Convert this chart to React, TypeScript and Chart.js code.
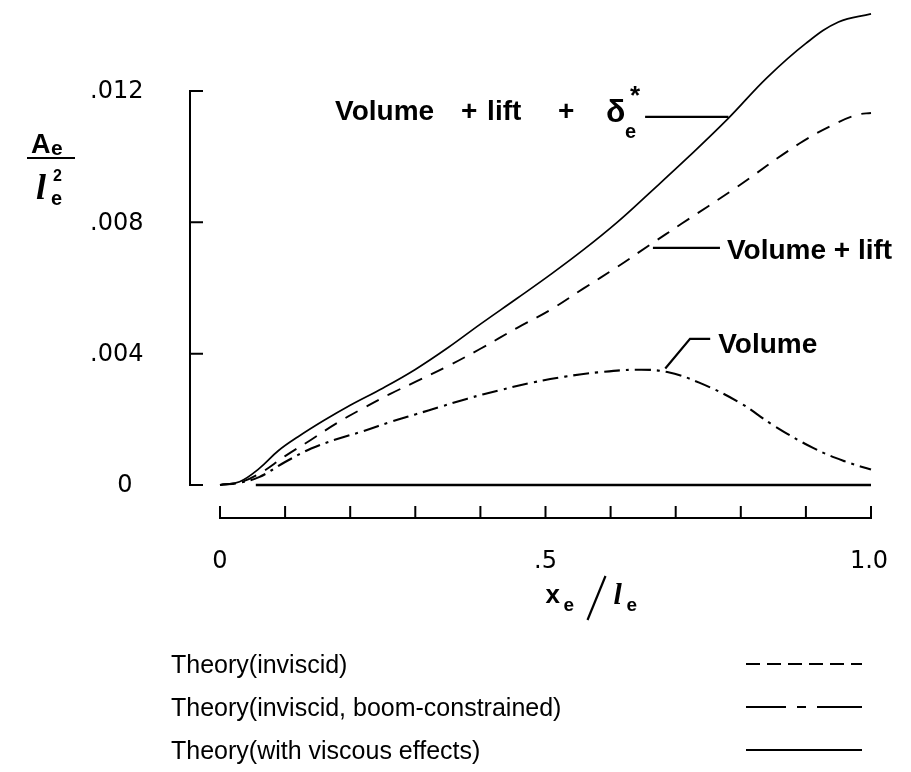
import { useEffect, useRef } from "react";
import { Chart, registerables } from "chart.js";

Chart.register(...registerables);

// Equivalent-area distributions A_e / l_e^2 along x_e / l_e
const volLiftDeltaX = [0, 0.03, 0.06, 0.09, 0.12, 0.16, 0.2, 0.25, 0.3, 0.35, 0.4, 0.456, 0.507, 0.558, 0.61, 0.66, 0.72, 0.78, 0.84, 0.9, 0.95, 1.0];
const volLiftDeltaY = [0, 0.0001, 0.0005, 0.00105, 0.00147, 0.00197, 0.00243, 0.00295, 0.00352, 0.00418, 0.0049, 0.00568, 0.0064, 0.00716, 0.008, 0.0089, 0.01, 0.01115, 0.0124, 0.01345, 0.0141, 0.01435];

const volLiftX = [0, 0.03, 0.06, 0.1, 0.14, 0.18, 0.22, 0.26, 0.3, 0.35, 0.4, 0.456, 0.507, 0.558, 0.61, 0.66, 0.71, 0.79, 0.89, 0.95, 0.98, 1.0];
const volLiftY = [0, 0.00008, 0.00034, 0.00088, 0.00138, 0.00189, 0.00234, 0.00276, 0.00314, 0.00362, 0.00415, 0.00478, 0.00533, 0.00598, 0.00664, 0.00731, 0.00797, 0.00902, 0.0104, 0.01105, 0.01128, 0.01133];

const volumeX = [0, 0.03, 0.06, 0.1, 0.14, 0.18, 0.22, 0.26, 0.3, 0.34, 0.38, 0.43, 0.48, 0.53, 0.58, 0.64, 0.687, 0.737, 0.799, 0.849, 0.911, 0.96, 1.0];
const volumeY = [0, 0.00007, 0.00024, 0.0007, 0.00111, 0.0014, 0.00164, 0.00191, 0.00215, 0.00239, 0.00263, 0.00289, 0.00312, 0.0033, 0.00343, 0.00351, 0.00344, 0.00311, 0.0025, 0.00183, 0.00113, 0.00072, 0.00047];

// zero reference line
const baseX = [0.055, 1.0];
const baseY = [0, 0];

const xTicks = [0, 0.1, 0.2, 0.3, 0.4, 0.5, 0.6, 0.7, 0.8, 0.9, 1.0];
const xTickLabels = ["0", ".5", "1.0"];
const xLabelValues = [0, 0.5, 1.0];
const yTicks = [0, 0.004, 0.008, 0.012];
const yTickLabels = ["0", ".004", ".008", ".012"];

const legendLabels = [
  "Theory(inviscid)",
  "Theory(inviscid, boom-constrained)",
  "Theory(with viscous effects)",
];

const W = 911;
const H = 772;
const INK = "#000";
const PAD_TOP = 6;
const PLOT_BOTTOM = 485;
const PX_PER_UNIT_Y = 394 / 0.012;
const Y_MAX = (PLOT_BOTTOM - PAD_TOP) / PX_PER_UNIT_Y;

const toPts = (xs: number[], ys: number[]) => xs.map((x, i) => ({ x, y: ys[i] }));

const TICK_FONT = '24px "DejaVu Sans"';
const NOTE_FONT = 'bold 28px "Liberation Sans"';
const LEGEND_FONT = '25px "Liberation Sans"';

const decor = {
  id: "decor",
  afterDatasetsDraw(chart: any) {
    const { ctx } = chart;
    const xs = chart.scales.x;
    const ys = chart.scales.y;
    const px = (v: number) => xs.getPixelForValue(v);
    const py = (v: number) => ys.getPixelForValue(v);

    ctx.save();
    ctx.strokeStyle = INK;
    ctx.fillStyle = INK;
    ctx.lineCap = "butt";

    // vertical axis with ticks pointing inward
    const yAxisX = px(0) - 30;
    ctx.lineWidth = 2;
    ctx.beginPath();
    ctx.moveTo(yAxisX, py(yTicks[yTicks.length - 1]));
    ctx.lineTo(yAxisX, py(0));
    yTicks.forEach((t) => {
      ctx.moveTo(yAxisX - 1, py(t));
      ctx.lineTo(yAxisX + 13, py(t));
    });
    ctx.stroke();

    ctx.font = TICK_FONT;
    ctx.textBaseline = "middle";
    yTicks.forEach((t, i) => {
      const lab = yTickLabels[i];
      if (lab === "0") {
        ctx.textAlign = "center";
        ctx.fillText(lab, yAxisX - 65, py(t) + 1);
      } else {
        ctx.textAlign = "left";
        ctx.fillText(lab, yAxisX - 100, py(t) + 1);
      }
    });

    // horizontal axis, drawn below the plot
    const xAxisY = py(0) + 33;
    ctx.beginPath();
    ctx.moveTo(px(0), xAxisY);
    ctx.lineTo(px(1), xAxisY);
    xTicks.forEach((t) => {
      ctx.moveTo(px(t), xAxisY + 1);
      ctx.lineTo(px(t), xAxisY - 12);
    });
    ctx.stroke();

    ctx.textAlign = "center";
    xLabelValues.forEach((v, i) => {
      ctx.fillText(xTickLabels[i], px(v) + (v === 1 ? -2 : 0), xAxisY + 44);
    });

    // x_e / l_e
    ctx.textAlign = "left";
    ctx.textBaseline = "alphabetic";
    const tx = px(0.5);
    ctx.font = 'bold 26px "Liberation Sans"';
    ctx.fillText("x", tx, 603);
    ctx.font = 'bold 19px "Liberation Sans"';
    ctx.fillText("e", tx + 18, 611);
    ctx.lineWidth = 2.2;
    ctx.beginPath();
    ctx.moveTo(tx + 42, 620);
    ctx.lineTo(tx + 60, 576);
    ctx.stroke();
    ctx.font = 'italic bold 30px "Liberation Serif"';
    ctx.fillText("l", tx + 68, 604);
    ctx.font = 'bold 19px "Liberation Sans"';
    ctx.fillText("e", tx + 81, 611);

    // A_e / l_e^2
    ctx.font = 'bold 27px "Liberation Sans"';
    ctx.fillText("A", 31, 153);
    ctx.font = 'bold 21px "Liberation Sans"';
    ctx.fillText("e", 51, 155);
    ctx.lineWidth = 2;
    ctx.beginPath();
    ctx.moveTo(27, 158);
    ctx.lineTo(75, 158);
    ctx.stroke();
    ctx.font = 'italic bold 36px "Liberation Serif"';
    ctx.fillText("l", 36, 199);
    ctx.font = 'bold 16px "Liberation Sans"';
    ctx.fillText("2", 53, 181);
    ctx.font = 'bold 20px "Liberation Sans"';
    ctx.fillText("e", 51, 205);

    // curve call-outs
    ctx.lineWidth = 2.2;
    // Volume + lift + delta*
    const dY = py(0.01121);
    const dL = px(0.653);
    ctx.beginPath();
    ctx.moveTo(dL, dY);
    ctx.lineTo(px(0.781), dY);
    ctx.stroke();
    ctx.font = NOTE_FONT;
    ctx.fillText("Volume", dL - 310, dY + 3);
    ctx.textAlign = "center";
    ctx.fillText("+", dL - 176, dY + 3);
    ctx.fillText("+", dL - 79, dY + 3);
    ctx.textAlign = "left";
    ctx.fillText("lift", dL - 158, dY + 3);
    ctx.font = 'bold 32px "Liberation Sans"';
    ctx.fillText("δ", dL - 39, dY + 5);
    ctx.font = 'bold 20px "Liberation Sans"';
    ctx.fillText("e", dL - 20, dY + 21);
    ctx.font = 'bold 26px "Liberation Sans"';
    ctx.fillText("*", dL - 15, dY - 13);

    // Volume + lift
    const lY = py(0.00722);
    ctx.beginPath();
    ctx.moveTo(px(0.665), lY);
    ctx.lineTo(px(0.768), lY);
    ctx.stroke();
    ctx.font = NOTE_FONT;
    ctx.fillText("Volume + lift", px(0.768) + 7, lY + 11);

    // Volume
    ctx.beginPath();
    ctx.moveTo(px(0.684), py(0.00355));
    ctx.lineTo(px(0.722), py(0.00445));
    ctx.lineTo(px(0.753), py(0.00445));
    ctx.stroke();
    ctx.fillText("Volume", px(0.753) + 8, py(0.00445) + 14);

    // key
    const rowY = [664, 707, 750];
    const kx0 = 746;
    const kx1 = 862;
    ctx.font = LEGEND_FONT;
    legendLabels.forEach((lab, i) => {
      ctx.fillText(lab, 171, rowY[i] + 9);
    });
    ctx.lineWidth = 1.8;
    ctx.setLineDash([14, 7]);
    ctx.beginPath();
    ctx.moveTo(kx0, rowY[0]);
    ctx.lineTo(kx1, rowY[0]);
    ctx.stroke();
    ctx.setLineDash([40, 11, 9, 11, 60]);
    ctx.beginPath();
    ctx.moveTo(kx0, rowY[1]);
    ctx.lineTo(kx1, rowY[1]);
    ctx.stroke();
    ctx.setLineDash([]);
    ctx.beginPath();
    ctx.moveTo(kx0, rowY[2]);
    ctx.lineTo(kx1, rowY[2]);
    ctx.stroke();

    ctx.restore();
  },
};

export default function App() {
  const canvasRef = useRef<HTMLCanvasElement | null>(null);

  useEffect(() => {
    const canvas = canvasRef.current;
    if (!canvas) return;
    const common = {
      borderColor: INK,
      pointRadius: 0,
      fill: false,
      clip: false as const,
      tension: 0.4,
    };
    const chart = new Chart(canvas, {
      type: "line",
      data: {
        datasets: [
          { ...common, label: "Volume + lift + δe*", data: toPts(volLiftDeltaX, volLiftDeltaY), borderWidth: 1.7 },
          { ...common, label: "Volume + lift", data: toPts(volLiftX, volLiftY), borderWidth: 1.9, borderDash: [14, 10] },
          { ...common, label: "Volume", data: toPts(volumeX, volumeY), borderWidth: 2.1, borderDash: [16, 6, 3, 6] },
          { ...common, label: "zero", data: toPts(baseX, baseY), borderWidth: 2.4, tension: 0 },
        ],
      },
      options: {
        animation: false,
        responsive: false,
        devicePixelRatio: 1,
        layout: { padding: { left: 220, right: W - 871, top: PAD_TOP, bottom: H - PLOT_BOTTOM } },
        plugins: { legend: { display: false }, tooltip: { enabled: false }, title: { display: false } },
        scales: {
          x: { type: "linear", min: 0, max: 1, display: false },
          y: { type: "linear", min: 0, max: Y_MAX, display: false },
        },
      },
      plugins: [decor],
    });
    return () => chart.destroy();
  }, []);

  return (
    <div style={{ position: "absolute", left: 0, top: 0, width: W, height: H, background: "#fff" }}>
      <canvas ref={canvasRef} width={W} height={H} style={{ display: "block" }} />
    </div>
  );
}
